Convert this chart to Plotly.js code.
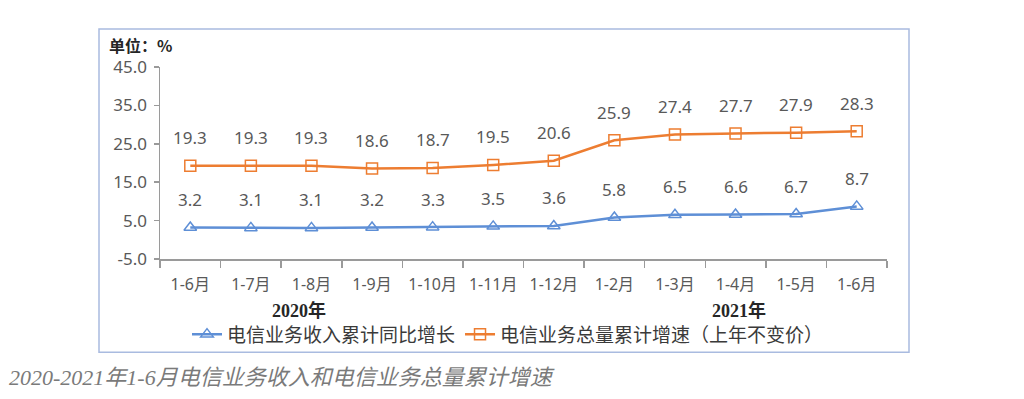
<!DOCTYPE html>
<html>
<head>
<meta charset="utf-8">
<script src="https://cdn.plot.ly/plotly-3.0.1.min.js"></script>
<style>
html,body{margin:0;padding:0;background:#fff;}
#chart{width:1024px;height:399px;}
</style>
</head>
<body>
<div id="chart"></div>
<script>
// ---- data ----
var categories = ["1-6月","1-7月","1-8月","1-9月","1-10月","1-11月","1-12月","1-2月","1-3月","1-4月","1-5月","1-6月"];
var revenueGrowth = [3.2,3.1,3.1,3.2,3.3,3.5,3.6,5.8,6.5,6.6,6.7,8.7];
var volumeGrowth = [19.3,19.3,19.3,18.6,18.7,19.5,20.6,25.9,27.4,27.7,27.9,28.3];
var seriesNames = ["电信业务收入累计同比增长","电信业务总量累计增速（上年不变价）"];
var yTicks = [-5, 5, 15, 25, 35, 45];
var yearLabels = ["2020年","2021年"];
var yearLabelPos = [1.8, 9.05];
var yTitle = "单位：%";
var caption = "2020-2021年1-6月电信业务收入和电信业务总量累计增速";

// ---- layout helpers ----
var L = 160, R = 887, T = 67, B = 259.5;
function px(x){ return (x - L) / (R - L); }
function py(y){ return (B - y) / (B - T); }

var idx = categories.map(function(_, i){ return i; });
var bounds = [];
for (var i = 0; i <= categories.length; i++) bounds.push(i - 0.5);

var blue = "#5e8fd6", orange = "#ed7d31";
var sans = "Noto Sans, Noto Sans CJK SC, sans-serif";

var traces = [
  {x: idx, y: revenueGrowth, name: seriesNames[0], type: "scatter", mode: "lines+markers",
   line: {color: blue, width: 2.5},
   marker: {symbol: "triangle-up-open", size: 11, color: blue, line: {width: 1.5, color: blue}}},
  {x: idx, y: volumeGrowth, name: seriesNames[1], type: "scatter", mode: "lines+markers",
   line: {color: orange, width: 2.5},
   marker: {symbol: "square-open", size: 11, color: orange, line: {width: 1.5, color: orange}}}
];

var annotations = [];
[revenueGrowth, volumeGrowth].forEach(function(arr){
  arr.forEach(function(v, i){
    annotations.push({x: i, y: v, xref: "x", yref: "y", text: v.toFixed(1), showarrow: false,
      yshift: 28, font: {family: sans, size: 17, color: "#595959"}});
  });
});
yearLabels.forEach(function(t, i){
  annotations.push({x: yearLabelPos[i], y: py(311), xref: "x", yref: "paper", text: "<b>" + t + "</b>",
    showarrow: false, yanchor: "middle", font: {family: "Liberation Serif, Noto Sans CJK SC, serif", size: 18, color: "#262626"}});
});
annotations.push({x: px(107), y: py(45), xref: "paper", yref: "paper", xanchor: "left", yanchor: "middle",
  text: "<b>" + yTitle + "</b>", showarrow: false, font: {family: "Noto Sans CJK SC, sans-serif", size: 16, color: "#262626"}});
annotations.push({x: px(7), y: py(378), xref: "paper", yref: "paper", xanchor: "left", yanchor: "middle",
  text: "<i>" + caption + "</i>", showarrow: false, font: {family: "Liberation Serif, Noto Sans CJK SC, serif", size: 22, color: "#7a7a7a"}});

var layout = {
  width: 1024, height: 399,
  margin: {l: L, r: 1024 - R, t: T, b: 399 - B, pad: 0},
  paper_bgcolor: "#fff", plot_bgcolor: "#fff",
  showlegend: true,
  legend: {orientation: "h", x: px(508), xanchor: "center", y: py(335), yanchor: "middle",
    font: {family: "Noto Sans CJK SC, sans-serif", size: 19, color: "#3a3a3a"}, bgcolor: "rgba(0,0,0,0)"},
  xaxis: {type: "linear", range: [-0.5, categories.length - 0.5], tickmode: "array", tickvals: idx, ticktext: categories,
    ticks: "", showgrid: false, zeroline: false, showline: true, linecolor: "#9a9a9a", linewidth: 1.5,
    tickfont: {family: sans, size: 16, color: "#595959"}, ticklabelstandoff: 10,
    minor: {tickmode: "array", tickvals: bounds, ticks: "outside", ticklen: 7, tickcolor: "#9a9a9a", tickwidth: 1.5, showgrid: false},
    fixedrange: true},
  yaxis: {range: [-5, 45], tickmode: "array", tickvals: yTicks, ticktext: yTicks.map(function(v){ return v.toFixed(1); }),
    ticks: "outside", ticklen: 5, tickcolor: "#9a9a9a", tickwidth: 1.5,
    showgrid: false, zeroline: false, showline: true, linecolor: "#9a9a9a", linewidth: 1.5,
    tickfont: {family: sans, size: 17, color: "#595959"}, ticklabelstandoff: 3, fixedrange: true},
  shapes: [{type: "rect", xref: "paper", yref: "paper", x0: px(99), x1: px(909), y0: py(353), y1: py(29),
    line: {color: "#a9bbe0", width: 1.5}, fillcolor: "rgba(0,0,0,0)", layer: "below"}],
  annotations: annotations
};

Plotly.newPlot("chart", traces, layout, {displayModeBar: false, staticPlot: true});
</script>
</body>
</html>
